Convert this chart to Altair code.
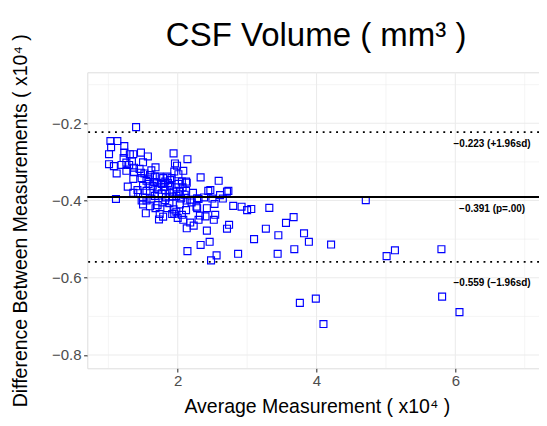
import altair as alt
import pandas as pd

# ---- data (values in units of x10^4) ----
avg_x = [
    1.40,
    1.03, 1.13, 1.04, 1.23, 1.01, 1.23, 1.31, 1.36, 1.47, 1.57,
    1.01, 1.08, 1.12, 1.19, 1.26, 1.30, 1.26, 1.37, 1.34, 1.50, 1.37, 1.47,
    1.94, 1.96, 1.99, 2.14, 1.68, 1.95, 2.08, 2.33, 2.59,
    1.11, 1.28, 1.36, 1.36, 1.48, 1.55, 1.60, 1.67, 1.70, 1.74, 1.79, 1.85, 1.91, 2.01, 2.06, 2.12,
    1.50, 1.42, 1.55, 1.64, 1.58, 1.71, 1.77, 1.82, 1.89, 1.94, 1.98, 2.03, 2.12,
    1.43, 1.50, 1.60, 1.67, 1.77, 1.83, 1.89, 1.98, 2.28, 2.44, 2.71, 2.73, 2.61,
    1.48, 1.50, 1.71, 1.74, 1.73, 1.82, 1.88, 1.94, 1.98, 2.03, 2.13, 2.27,
    2.13, 2.07, 2.01, 1.89, 1.82,
    1.54, 1.79, 1.95, 2.06, 2.12, 2.13, 2.18, 2.28, 2.32, 2.30, 2.40, 2.42, 2.53, 2.54, 2.52,
    2.42, 2.33, 2.46, 2.14, 2.56, 2.48, 2.80, 2.92, 3.00, 3.06, 2.74, 2.71, 3.10, 2.87, 2.47, 2.30,
    4.71, 3.32, 3.67, 3.56, 3.27, 3.45, 3.82, 3.89, 4.21, 3.44, 3.68, 5.01, 5.13, 5.80,
    3.76, 3.99, 4.10, 5.81, 6.06,
    1.22, 1.45, 1.52, 1.62, 1.58, 1.66, 1.72, 1.80, 1.86, 1.92, 2.05, 2.10, 2.18, 2.22,
    1.62, 1.55, 1.78, 1.85, 1.92, 2.00, 2.08, 2.20, 2.38, 2.50, 2.65, 2.23, 1.68, 1.60,
]
diff_y = [
    -0.210,
    -0.246, -0.246, -0.262, -0.259, -0.280, -0.276, -0.280, -0.280, -0.276, -0.286,
    -0.306, -0.311, -0.330, -0.308, -0.302, -0.308, -0.323, -0.315, -0.299, -0.301, -0.327, -0.328,
    -0.278, -0.304, -0.310, -0.293, -0.314, -0.325, -0.323, -0.340, -0.349,
    -0.396, -0.364, -0.344, -0.380, -0.342, -0.349, -0.334, -0.338, -0.354, -0.338, -0.342, -0.338, -0.342, -0.332, -0.351, -0.351,
    -0.362, -0.373, -0.375, -0.362, -0.357, -0.366, -0.357, -0.373, -0.362, -0.377, -0.366, -0.377, -0.375,
    -0.381, -0.392, -0.381, -0.388, -0.381, -0.392, -0.381, -0.388, -0.394, -0.375, -0.377, -0.375, -0.386,
    -0.400, -0.410, -0.412, -0.435, -0.449, -0.399, -0.407, -0.423, -0.429, -0.410, -0.400, -0.416,
    -0.354, -0.366, -0.357, -0.347, -0.351,
    -0.433, -0.442, -0.434, -0.437, -0.425, -0.472, -0.457, -0.420, -0.439, -0.450, -0.441, -0.420, -0.409, -0.437, -0.450,
    -0.478, -0.515, -0.507, -0.531, -0.542, -0.555, -0.414, -0.416, -0.425, -0.422, -0.463, -0.473, -0.500, -0.538, -0.373, -0.396,
    -0.399, -0.419, -0.443, -0.458, -0.473, -0.490, -0.485, -0.507, -0.514, -0.538, -0.526, -0.544, -0.529, -0.526,
    -0.665, -0.654, -0.720, -0.649, -0.689,
    -0.290, -0.318, -0.330, -0.322, -0.345, -0.352, -0.372, -0.365, -0.355, -0.390, -0.395, -0.385, -0.398, -0.380,
    -0.395, -0.400, -0.405, -0.420, -0.435, -0.445, -0.450, -0.405, -0.392, -0.395, -0.395, -0.465, -0.420, -0.415,
]

# reference lines
line_values = [-0.223, -0.391, -0.559]
line_kind = ["sd", "mean", "sd"]
label_texts = ["\u22120.223 (+1.96sd)", "\u22120.391 (p=.00)", "\u22120.559 (\u22121.96sd)"]
label_x = [6.53, 6.53, 6.53]
label_y = [-0.2536, -0.422, -0.6135]

# gridlines / ticks
x_ticks = [2, 4, 6]
x_minor = [1, 3, 5, 7]
y_ticks = [-0.8, -0.6, -0.4, -0.2]
y_minor = [-0.7, -0.5, -0.3, -0.1]

x_domain = [0.697, 7.206]
y_domain = [-0.8345, -0.068]

FONT = "Liberation Sans"

pts = pd.DataFrame({"x": avg_x, "y": diff_y})
lines = pd.DataFrame({"v": line_values, "kind": line_kind})
labels = pd.DataFrame({"x": label_x, "y": label_y, "t": label_texts})

xs = alt.Scale(domain=x_domain, nice=False, zero=False)
ys = alt.Scale(domain=y_domain, nice=False, zero=False)

x_axis = alt.Axis(values=x_ticks, grid=False, domain=False, title="Average Measurement ( x10\u2074 )",
                  labelFontSize=15, labelColor="#4D4D4D", labelFont=FONT, labelPadding=2,
                  tickColor="#333333", tickSize=3.7, tickWidth=1.07,
                  titleFont=FONT, titleFontSize=19.5, titleFontWeight="normal", titleColor="black",
                  titlePadding=9, titleX=229.5)
y_axis = alt.Axis(values=y_ticks, grid=False, domain=False, format=".1f",
                  title="Difference Between Measurements ( x10\u2074 )",
                  labelFontSize=15, labelColor="#4D4D4D", labelFont=FONT, labelPadding=2.5,
                  tickColor="#333333", tickSize=3.7, tickWidth=1.07,
                  titleFont=FONT, titleFontSize=19.5, titleFontWeight="normal", titleColor="black",
                  titlePadding=21)


def X(field):
    return alt.X(field, scale=xs, axis=x_axis)


def Y(field):
    return alt.Y(field, scale=ys, axis=y_axis)


vmajor = alt.Chart(pd.DataFrame({"g": x_ticks})).mark_rule(color="#EBEBEB", strokeWidth=1.07).encode(
    x=X("g:Q"))
vminor = alt.Chart(pd.DataFrame({"g": x_minor})).mark_rule(color="#EBEBEB", strokeWidth=0.55).encode(
    x=X("g:Q"))
hmajor = alt.Chart(pd.DataFrame({"g": y_ticks})).mark_rule(color="#EBEBEB", strokeWidth=1.07).encode(
    y=Y("g:Q"))
hminor = alt.Chart(pd.DataFrame({"g": y_minor})).mark_rule(color="#EBEBEB", strokeWidth=0.55).encode(
    y=Y("g:Q"))

points = alt.Chart(pts).mark_point(shape="square", filled=False, color="#0000FF",
                                   size=48, strokeWidth=1.15, opacity=1).encode(
    x=X("x:Q"), y=Y("y:Q"))

mean_line = alt.Chart(lines[lines.kind == "mean"]).mark_rule(color="black", strokeWidth=1.9).encode(
    y=Y("v:Q"))
sd_lines = alt.Chart(lines[lines.kind == "sd"]).mark_rule(color="black", strokeWidth=1.9,
                                                       strokeDash=[1.9, 4.8]).encode(
    y=Y("v:Q"))

texts = alt.Chart(labels).mark_text(font=FONT, fontSize=10, fontWeight="bold", color="black",
                                    align="center", baseline="middle").encode(
    x=X("x:Q"), y=Y("y:Q"), text="t:N")

chart = alt.layer(vminor, hminor, vmajor, hmajor, points, mean_line, sd_lines, texts).properties(
    width=451.7, height=296,
    autosize=alt.AutoSizeParams(type="none"),
    padding={"left": 79.3, "top": 64.3, "right": 0, "bottom": 50},
    title=alt.TitleParams(text="CSF Volume ( mm\u00b3 )", font=FONT, fontSize=33, fontWeight="normal",
                          color="black", anchor="middle", offset=-19, dx=3),
).configure_view(stroke="#333333", strokeWidth=1.07).configure(background="white")

chart.save("out.html", embed_options={"renderer": "svg", "actions": False})
